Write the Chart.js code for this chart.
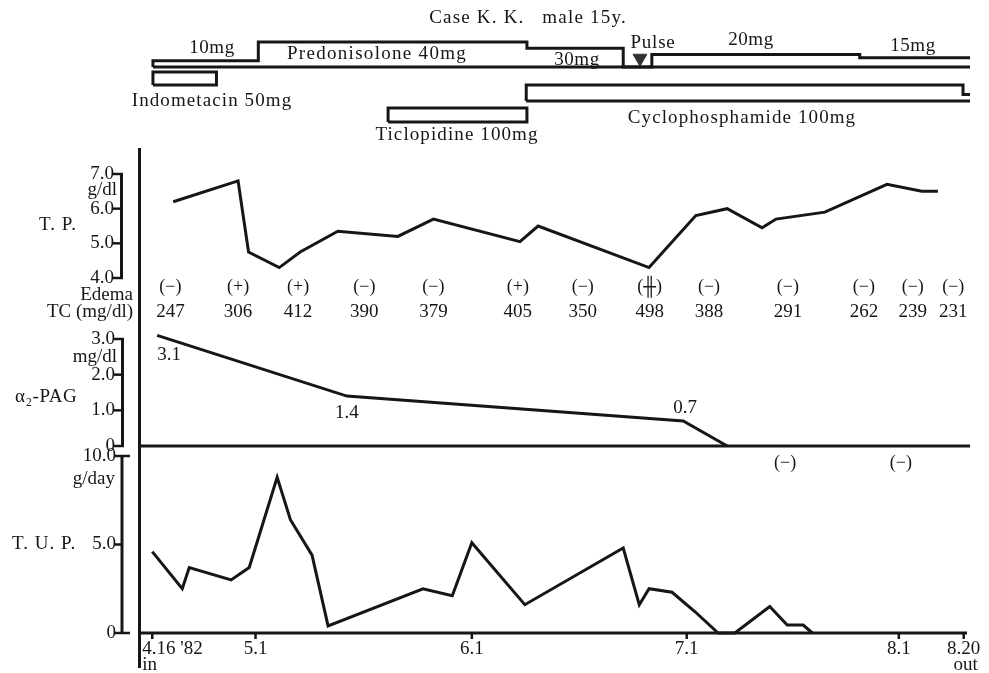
<!DOCTYPE html>
<html>
<head>
<meta charset="utf-8">
<script src="https://cdn.jsdelivr.net/npm/chart.js@4.4.0/dist/chart.umd.min.js"></script>
<style>
  html, body { margin: 0; padding: 0; background: #fff; }
  #c { display: block; }
</style>
</head>
<body>
<canvas id="c" width="989" height="673"></canvas>
<script>
// x = days after admission (4.16 '82); the figure squeezes 8.1 -> 8.20
const xTickDays = [0, 14.8, 45.8, 76.6, 107, 116.3];
const xTickLabels = [["4.16 '82", 'in'], ['5.1'], ['6.1'], ['7.1'], ['8.1'], ['8.20', 'out']];

// T.P. (g/dl)
const tpDays = [3.0, 12.3, 13.8, 18.2, 21.2, 26.6, 35.2, 40.3, 52.7, 55.3, 71.2, 77.9, 82.4, 87.4, 89.4, 96.4, 105.3, 110.3, 112.6];
const tpValues = [6.2, 6.8, 4.75, 4.3, 4.75, 5.35, 5.2, 5.7, 5.05, 5.5, 4.3, 5.8, 6.0, 5.45, 5.7, 5.9, 6.7, 6.5, 6.5];
const tpTicks = [7, 6, 5, 4];

// edema / total cholesterol on the same visits
const visitDays = [2.6, 12.3, 20.9, 30.4, 40.3, 52.4, 61.7, 71.3, 79.8, 91.1, 102, 109, 114.8];
const edema = ['(−)', '(+)', '(+)', '(−)', '(−)', '(+)', '(−)', '(╫)', '(−)', '(−)', '(−)', '(−)', '(−)'];
const tcValues = [247, 306, 412, 390, 379, 405, 350, 498, 388, 291, 262, 239, 231];

// alpha2-PAG (mg/dl)
const pagDays = [0.7, 27.9, 76.1, 82.4];
const pagValues = [3.1, 1.4, 0.7, 0];
const pagLabels = ['3.1', '1.4', '0.7', ''];
const pagNegDays = [90.7, 107.3];
const pagTicks = [3, 2, 1, 0];

// T.U.P. (g/day)
const tupDays = [0, 4.3, 5.3, 11.3, 13.9, 17.9, 19.8, 22.9, 25.2, 38.8, 43.0, 45.8, 53.4, 67.5, 69.8, 71.2, 74.5, 77.8, 81.1, 83.5, 88.5, 91.0, 93.3, 94.6];
const tupValues = [4.6, 2.5, 3.7, 3.0, 3.7, 8.8, 6.4, 4.4, 0.4, 2.5, 2.1, 5.1, 1.6, 4.8, 1.6, 2.5, 2.3, 1.2, 0, 0, 1.5, 0.45, 0.45, 0];
const tupTicks = [10, 5, 0];

// treatment (mg/day)
const predDays = [0.1, 0.1, 15.2, 53.7, 67.5, 71.6, 101.4, 117.2];
const predDose = [0, 10, 40, 30, 0, 20, 15, 15];
const pulseDay = 69.9;
const pulseMark = 14;
const cycDays = [53.6, 53.6, 116.2, 117.2];
const cycDose = [0, 100, 40, 40];
const indoDays = [0.1, 9.2];
const ticDays = [33.8, 53.7];

const ink = '#161616';
const serif = "'Liberation Serif', 'DejaVu Serif', serif";
const TOP = 30, BOTTOM = 633;

// y scale where value v1 sits at pixel p1 and v2 at p2
function span(v1, p1, v2, p2) {
  const k = (v1 - v2) / (p2 - p1);
  return { type: 'linear', display: false, bounds: 'data',
           min: v1 + (p1 - BOTTOM) * k, max: v1 + (p1 - TOP) * k };
}
const pts = (xs, ys) => xs.map((x, i) => ({ x: x, y: ys[i] }));
const box = d => [{ x: d[0], y: 0 }, { x: d[0], y: 1 }, { x: d[1], y: 1 }, { x: d[1], y: 0 }, { x: d[0], y: 0 }];
const line = (data, axis, extra) => Object.assign({
  data: data, yAxisID: axis, borderColor: ink, borderWidth: 3, pointRadius: 0,
  tension: 0, fill: false, clip: false, borderJoinStyle: 'miter'
}, extra || {});

function text(ctx, s, x, y, size, align, spacing) {
  ctx.font = size + 'px ' + serif;
  ctx.textAlign = align || 'center';
  ctx.textBaseline = 'middle';
  ctx.letterSpacing = (spacing || 0) + 'px';
  ctx.fillStyle = ink;
  ctx.fillText(s, x, y);
  ctx.letterSpacing = '0px';
}
function seg(ctx, x1, y1, x2, y2, w) {
  ctx.beginPath();
  ctx.lineWidth = w || 3;
  ctx.moveTo(x1, y1);
  ctx.lineTo(x2, y2);
  ctx.stroke();
}
function bracket(ctx, scale, ticks, labels, xLine, endRight, labelX) {
  const yTop = scale.getPixelForValue(ticks[0]);
  const yBot = scale.getPixelForValue(ticks[ticks.length - 1]);
  seg(ctx, xLine, yTop - 1, xLine, yBot + 1, 3);
  ticks.forEach((t, i) => {
    const y = scale.getPixelForValue(t);
    const end = (i === 0 || i === ticks.length - 1) ? endRight : xLine;
    seg(ctx, labelX, y, end, y, 2.5);
    text(ctx, labels[i], labelX + 1, y, 19, 'right');
  });
}

const overlay = {
  id: 'overlay',
  afterDraw(chart) {
    const ctx = chart.ctx;
    const { x, yTP, yPAG, yTUP } = chart.scales;
    const area = chart.chartArea;
    ctx.save();
    ctx.strokeStyle = ink;
    ctx.lineCap = 'butt';

    text(ctx, 'Case K. K.   male 15y.', 528, 18, 19, 'center', 1.2);
    // treatment captions
    text(ctx, '10mg', 212, 48, 19, 'center', 0.5);
    text(ctx, 'Predonisolone 40mg', 377, 54, 19, 'center', 1.3);
    text(ctx, '30mg', 577, 60, 19, 'center', 0.5);
    text(ctx, 'Pulse', 653, 43, 19, 'center', 0.8);
    text(ctx, '20mg', 751, 40, 19, 'center', 0.5);
    text(ctx, '15mg', 913, 46, 19, 'center', 0.5);
    text(ctx, 'Indometacin 50mg', 212, 101, 19, 'center', 1.1);
    text(ctx, 'Ticlopidine 100mg', 457, 135, 19, 'center', 1.1);
    text(ctx, 'Cyclophosphamide 100mg', 742, 118, 19, 'center', 1.1);

    // frame: left spine, PAG zero line, time axis
    seg(ctx, area.left + 0.5, 148, area.left + 0.5, 668, 3);
    const y0pag = yPAG.getPixelForValue(0);
    seg(ctx, area.left, y0pag, area.right, y0pag, 3);
    const y0tup = yTUP.getPixelForValue(0);
    seg(ctx, area.left, y0tup, area.right - 3, y0tup, 3);

    xTickDays.forEach((d, i) => {
      const px = x.getPixelForValue(d);
      seg(ctx, px, y0tup, px, y0tup + 6, 2.5);
      const lab = xTickLabels[i];
      if (i === 0) {
        text(ctx, lab[0], px - 10, 649, 19, 'left');
        text(ctx, lab[1], px - 10, 665, 19, 'left');
      } else {
        text(ctx, lab[0], px, 649, 19, 'center');
        if (lab[1]) text(ctx, lab[1], px + 2, 665, 19, 'center');
      }
    });

    // y brackets
    bracket(ctx, yTP, tpTicks, ['7.0', '6.0', '5.0', '4.0'], 121.5, 123, 113);
    bracket(ctx, yPAG, pagTicks, ['3.0', '2.0', '1.0', '0'], 122.5, 124, 114);
    bracket(ctx, yTUP, tupTicks, ['10.0', '5.0', '0'], 122, 130, 115);

    text(ctx, 'g/dl', 117, 190, 19, 'right');
    text(ctx, 'T. P.', 58, 225, 19, 'center', 1);
    text(ctx, 'mg/dl', 117, 357, 19, 'right');
    text(ctx, 'α₂-PAG', 15, 397, 19, 'left', 0.5);
    text(ctx, 'g/day', 115, 479, 19, 'right');
    text(ctx, 'T. U. P.', 12, 544, 19, 'left', 1);

    // edema and TC rows
    text(ctx, 'Edema', 133, 295, 19, 'right');
    text(ctx, 'TC (mg/dl)', 133, 312, 19, 'right');
    visitDays.forEach((d, i) => {
      const px = x.getPixelForValue(d);
      text(ctx, edema[i], px, 287, 18, 'center');
      text(ctx, String(tcValues[i]), px, 312, 19, 'center');
    });

    // PAG value labels beside the points
    const offs = [[12, 20], [0, 17], [2, -13]];
    const meta = chart.getDatasetMeta(1);
    pagLabels.forEach((s, i) => {
      if (!s) return;
      const p = meta.data[i];
      text(ctx, s, p.x + offs[i][0], p.y + offs[i][1], 19, 'center');
    });
    pagNegDays.forEach(d => text(ctx, '(−)', x.getPixelForValue(d), 463, 18, 'center'));

    ctx.restore();
  }
};

new Chart(document.getElementById('c'), {
  type: 'line',
  data: {
    datasets: [
      line(pts(tpDays, tpValues), 'yTP'),
      line(pts(pagDays, pagValues), 'yPAG'),
      line(pts(tupDays, tupValues), 'yTUP'),
      line(pts(predDays, predDose), 'yPred', { stepped: true }),
      line(pts([predDays[0], predDays[predDays.length - 1]], [0, 0]), 'yPred'),
      line([{ x: pulseDay, y: pulseMark }], 'yPred', {
        showLine: false, pointRadius: 8, pointStyle: 'triangle', rotation: 180,
        pointBackgroundColor: '#333', pointBorderColor: '#333', pointBorderWidth: 1
      }),
      line(pts(cycDays, cycDose), 'yCyc', { stepped: true }),
      line(pts([cycDays[0], cycDays[cycDays.length - 1]], [0, 0]), 'yCyc'),
      line(box(indoDays), 'yIndo'),
      line(box(ticDays), 'yTic')
    ]
  },
  options: {
    responsive: false,
    animation: false,
    devicePixelRatio: 1,
    events: [],
    layout: { autoPadding: false, padding: { left: 139, right: 19, top: TOP, bottom: 673 - BOTTOM } },
    plugins: { legend: { display: false }, tooltip: { enabled: false }, title: { display: false } },
    scales: {
      x: { type: 'linear', display: false, bounds: 'data', min: -1.9, max: 117.2 },
      yTP: span(7, 174, 4, 278),
      yPAG: span(3, 339, 0, 446),
      yTUP: span(10, 456, 0, 633),
      yPred: span(40, 42, 0, 67),
      yCyc: span(100, 85, 0, 101),
      yIndo: span(1, 72, 0, 85),
      yTic: span(1, 108, 0, 122)
    }
  },
  plugins: [overlay]
});
</script>
</body>
</html>
